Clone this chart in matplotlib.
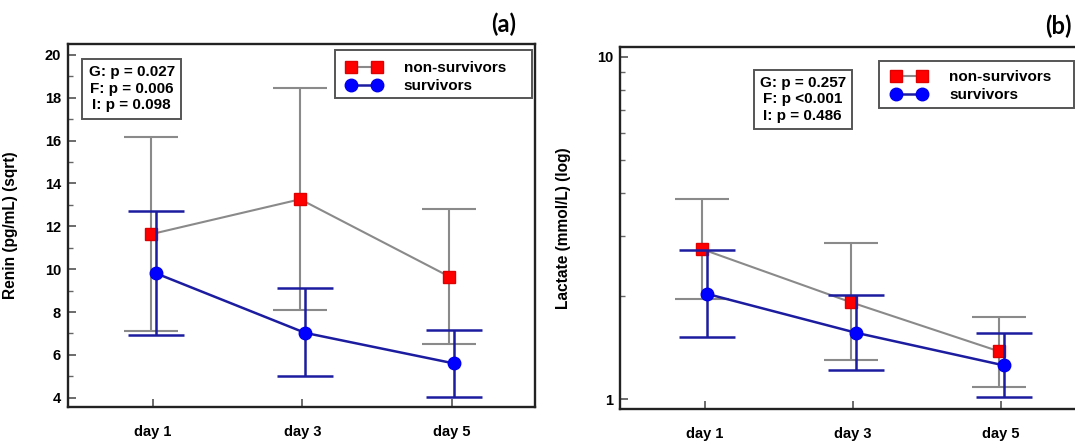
import matplotlib.pyplot as plt
import numpy as np
from matplotlib.lines import Line2D
from matplotlib.patches import Rectangle
from matplotlib.ticker import FixedLocator, MultipleLocator, LogLocator, NullFormatter

plt.rcParams['font.family'] = ['Liberation Sans', 'DejaVu Sans']
plt.rcParams['font.weight'] = 'bold'

days = ['day 1', 'day 3', 'day 5']

# panel (a): renin, mean with lower / upper bounds
renin_ns = [11.63, 13.26, 9.65]
renin_ns_lo = [7.13, 8.08, 6.52]
renin_ns_hi = [16.16, 18.44, 12.79]
renin_s = [9.81, 7.03, 5.60]
renin_s_lo = [6.91, 5.00, 4.03]
renin_s_hi = [12.70, 9.10, 7.16]

# panel (b): lactate
lact_ns = [2.74, 1.92, 1.38]
lact_ns_lo = [1.96, 1.30, 1.084]
lact_ns_hi = [3.83, 2.85, 1.735]
lact_s = [2.03, 1.565, 1.256]
lact_s_lo = [1.52, 1.215, 1.016]
lact_s_hi = [2.73, 2.01, 1.558]

stats_a = 'G: p = 0.027\nF: p = 0.006\nI: p = 0.098'
stats_b = 'G: p = 0.257\nF: p <0.001\nI: p = 0.486'

GRAY = '#8a8a8a'
NAVY = '#1c1ca0'
EDGE = '#555555'


def draw_panel(ax, ns, ns_lo, ns_hi, s, s_lo, s_hi):
    x = np.arange(len(days))
    ns, s = np.array(ns), np.array(s)
    ax.errorbar(x - 0.014, ns, yerr=[ns - np.array(ns_lo), np.array(ns_hi) - ns],
                color=GRAY, lw=1.5, capsize=19.5, capthick=1.5, elinewidth=1.5,
                marker='s', ms=9, mfc='#ff0000', mec='#e00000', zorder=2)
    ax.errorbar(x + 0.018, s, yerr=[s - np.array(s_lo), np.array(s_hi) - s],
                color=NAVY, lw=1.8, capsize=20.5, capthick=1.8, elinewidth=1.8,
                marker='o', ms=9, mfc='#0000ff', mec='#0000ee', zorder=3)
    ax.set_xticks(x)
    ax.set_xticklabels(days, fontsize=10.5, fontweight='bold')
    for sp in ax.spines.values():
        sp.set_linewidth(1.7)
        sp.set_color('#222222')
    ax.tick_params(axis='both', which='major', direction='in', length=6,
                   width=1.1, color='#444444', labelsize=10.5)
    ax.tick_params(axis='both', which='minor', direction='in', length=3.5,
                   width=1.0, color='#666666')
    ax.tick_params(axis='x', pad=13)
    ax.tick_params(axis='y', pad=5)


def add_legend(ax, frame, anchor):
    # frame: (x0, y0, x1, y1) in axes coords
    x0, y0, x1, y1 = frame
    ax.add_patch(Rectangle((x0, y0), x1 - x0, y1 - y0, transform=ax.transAxes,
                           fc='white', ec=EDGE, lw=1.4, zorder=4))
    handles = [Line2D([], [], color=GRAY, lw=1.5, marker='s', ms=9,
                      mfc='#ff0000', mec='#e00000'),
               Line2D([], [], color=NAVY, lw=1.8, marker='o', ms=9,
                      mfc='#0000ff', mec='#0000ee')]
    leg = ax.legend(handles, ['non-survivors', 'survivors'], loc='upper left',
                    bbox_to_anchor=anchor, borderaxespad=0, borderpad=0,
                    numpoints=2, fontsize=11, handlelength=2.30,
                    handletextpad=1.47, labelspacing=0.28, frameon=False)
    leg.set_zorder(5)
    for t in leg.get_texts():
        t.set_fontweight('bold')


def stat_box(ax, xy, txt):
    ax.text(xy[0], xy[1], txt, transform=ax.transAxes, ha='center', va='center',
            fontsize=11, fontweight='bold', linespacing=1.25, zorder=5,
            bbox=dict(boxstyle='square,pad=0.4', fc='white', ec=EDGE, lw=1.4))


fig = plt.figure(figsize=(10.75, 4.41), dpi=100)
ax1 = fig.add_axes([0.0633, 0.0771, 0.4345, 0.823])
ax2 = fig.add_axes([0.5767, 0.0726, 0.4250, 0.821])

# panel (a)
draw_panel(ax1, renin_ns, renin_ns_lo, renin_ns_hi, renin_s, renin_s_lo, renin_s_hi)
ax1.set_xlim(-0.57, 2.56)
ax1.set_ylim(3.57, 20.5)
ax1.yaxis.set_major_locator(MultipleLocator(2))
ax1.yaxis.set_minor_locator(MultipleLocator(1))
for lab in ax1.get_yticklabels():
    lab.set_fontweight('bold')
ax1.set_ylabel('Renin (pg/mL) (sqrt)', fontsize=11.2, fontweight='bold')
ax1.yaxis.set_label_coords(-0.107, 0.5)
stat_box(ax1, (0.136, 0.877), stats_a)
add_legend(ax1, (0.5714, 0.8512, 0.9936, 0.9835), (0.5957, 0.953))
fig.text(504 / 1075, 1 - 24 / 441, '(a)', ha='center', va='center',
         fontsize=17, fontweight='bold', family=['Lato', 'DejaVu Sans'])

# panel (b)
draw_panel(ax2, lact_ns, lact_ns_lo, lact_ns_hi, lact_s, lact_s_lo, lact_s_hi)
ax2.set_yscale('log')
ax2.set_xlim(-0.57, 2.51)
ax2.set_ylim(0.937, 10.67)
ax2.yaxis.set_major_locator(FixedLocator([1, 10]))
ax2.yaxis.set_major_formatter(plt.FixedFormatter(['1', '10']))
ax2.yaxis.set_minor_locator(LogLocator(base=10, subs=np.arange(2, 10)))
ax2.yaxis.set_minor_formatter(NullFormatter())
for lab in ax2.get_yticklabels():
    lab.set_fontweight('bold')
ax2.set_ylabel('Lactate (mmol/L) (log)', fontsize=11.2, fontweight='bold')
ax2.yaxis.set_label_coords(-0.1075, 0.5)
stat_box(ax2, (0.400, 0.855), stats_b)
add_legend(ax2, (0.568, 0.8315, 0.9934, 0.9613), (0.595, 0.9365))
fig.text(1058 / 1075, 1 - 26 / 441, '(b)', ha='center', va='center',
         fontsize=17, fontweight='bold', family=['Lato', 'DejaVu Sans'])

fig.savefig('out.png', dpi=100)
